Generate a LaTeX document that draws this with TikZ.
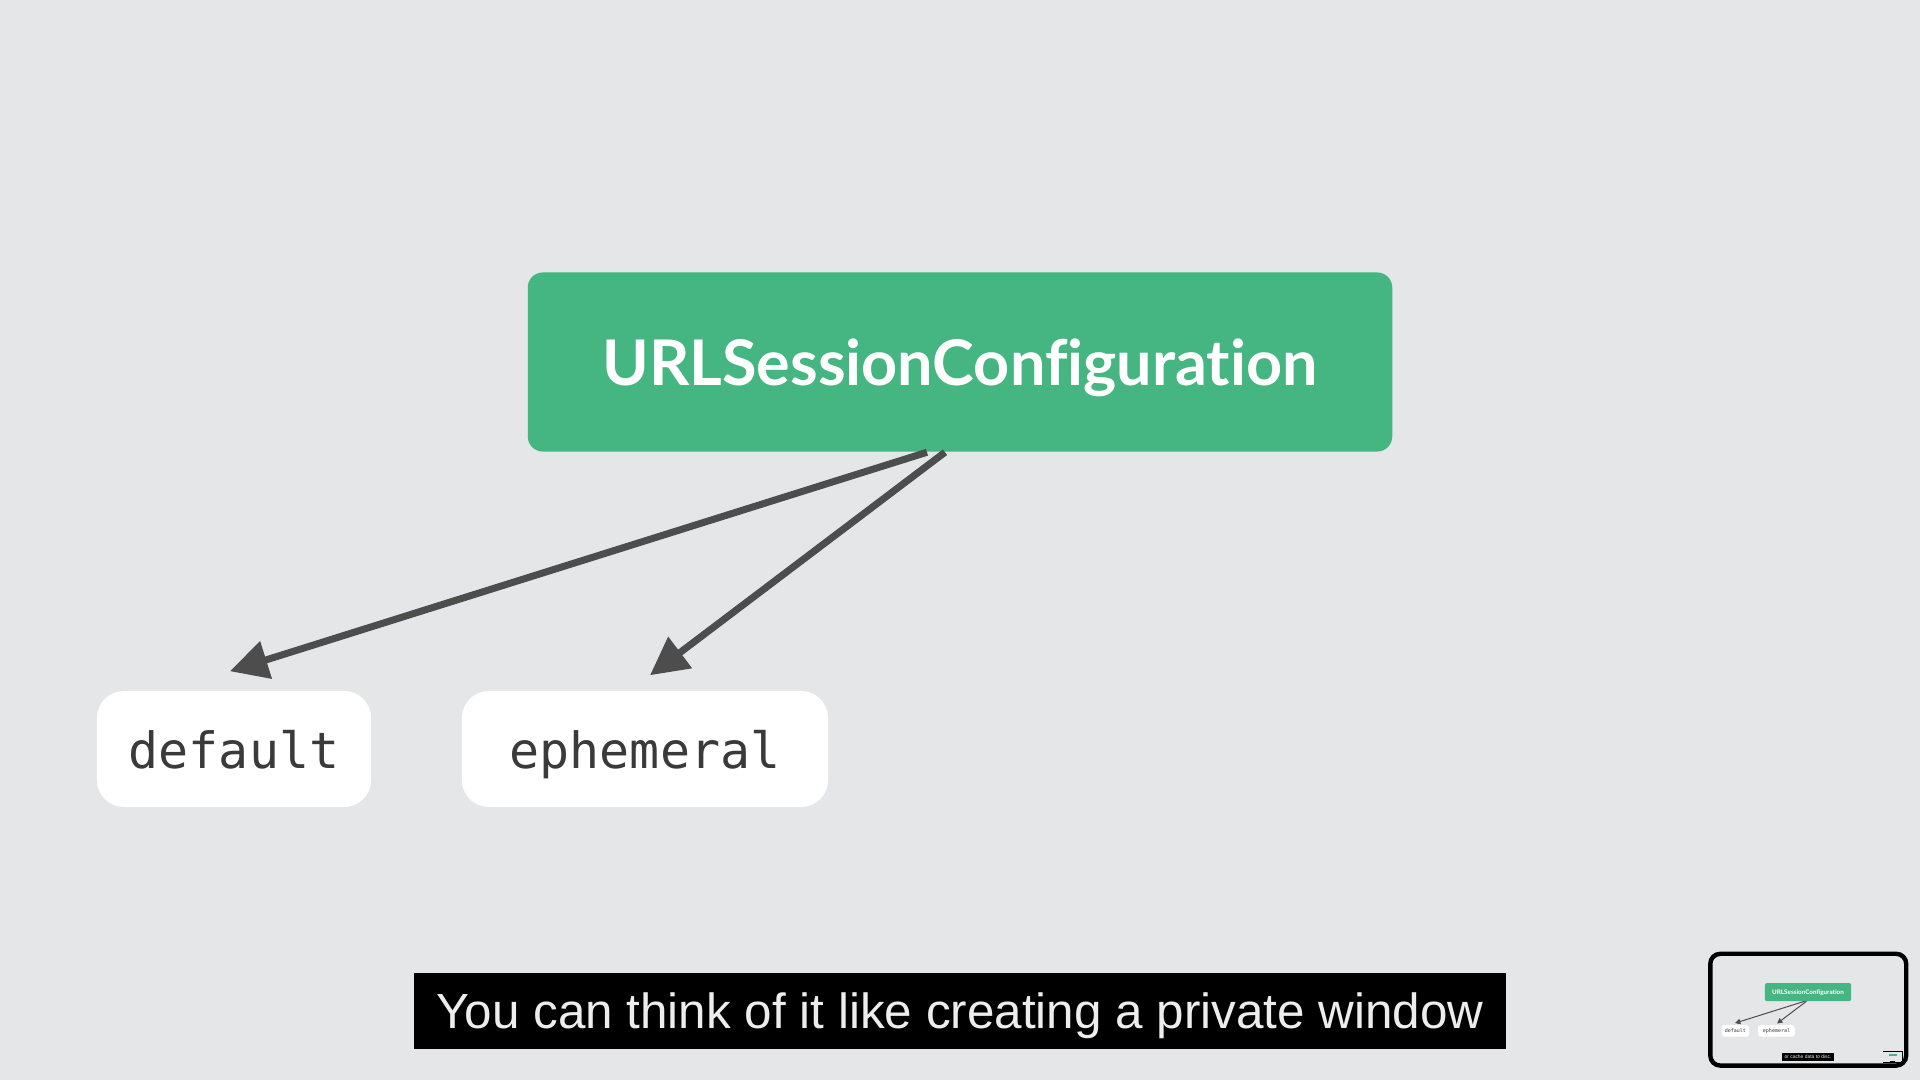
\documentclass[tikz,border=0pt]{standalone}
\usepackage{fontspec}
\usepackage{tikz}
\usetikzlibrary{arrows.meta, calc}
\newfontfamily\titlefont{Lato}[UprightFont=*-Bold, Ligatures=NoCommon]
\newfontfamily\codefont{DejaVu Sans Mono}
\newfontfamily\capfont{Liberation Sans}
\definecolor{bggray}{RGB}{229, 230, 232}
\definecolor{configgreen}{RGB}{69, 181, 130}
\definecolor{linkgray}{RGB}{77, 77, 77}
\definecolor{casetext}{RGB}{58, 58, 58}

\tikzset{
  configbox/.style={fill=configgreen, text=white, rounded corners=0.15cm,
    minimum width=8.64cm, minimum height=1.79cm, inner sep=0pt, text depth=0pt,
    font=\titlefont\fontsize{17.9}{20}\selectfont},
  casebox/.style={fill=white, text=casetext, rounded corners=0.27cm,
    minimum height=1.16cm, inner sep=0pt, text depth=0pt,
    font=\codefont\fontsize{14.2}{16}\selectfont},
  captionbox/.style={fill=black, text=white!93!black, inner xsep=0.22cm,
    minimum height=0.76cm, inner ysep=0pt, text depth=0pt,
    font=\capfont\fontsize{14.05}{16}\selectfont},
  link/.style={draw=linkgray, -{Triangle[length=0pt 5.4, width=0pt 5.4]}},
}

% one slide of the video, in pixel units; #1 name prefix, #2 line width, #3 caption
\newcommand{\drawslide}[3]{%
  \fill[bggray] (0,0) rectangle (1920,1080);
  \node[configbox] (#1-config) at (960,362) {URLSessionConfiguration};
  \node[casebox, minimum width=2.74cm] (#1-default) at (234,749) {default};
  \node[casebox, minimum width=3.66cm] (#1-ephemeral) at (645,749) {ephemeral};
  \draw[link, line width=#2] ($(#1-config.south)+(-33,0)$) -- ($(#1-default.north)+(-4,-19)$);
  \draw[link, line width=#2] ($(#1-config.south)+(-15,0)$) -- ($(#1-ephemeral.north)+(5,-15)$);
  \node[captionbox] (#1-caption) at (960,1011) {#3};
}

\begin{document}
\begin{tikzpicture}[x=0.01cm, y=-0.01cm]

  \useasboundingbox (0,0) rectangle (1920,1080);

  % --- main slide ---
  \drawslide{main}{0.07cm}{You can think of it like creating a private window}

  % --- preview thumbnail ---
  \begin{scope}[shift={(1712,956)}, scale=0.1, transform shape,
      configbox/.append style={rounded corners=0.015cm},
      casebox/.append style={rounded corners=0.027cm}]
    \drawslide{thumb}{0.1mm}{or cache data to disc.}
    % nested preview
    \fill[black] (1708,951) rectangle (1908,1068);
    \fill[bggray] (1712,956) rectangle (1904,1064);
    \fill[configgreen] (1765,983) rectangle (1851,1001);
    \fill[black] (1782,1053) rectangle (1834,1061);
  \end{scope}
  \draw[black, line width=0.044cm, rounded corners=0.1cm] (1710.3,953.8) rectangle (1906.2,1065.6);

\end{tikzpicture}
\end{document}
